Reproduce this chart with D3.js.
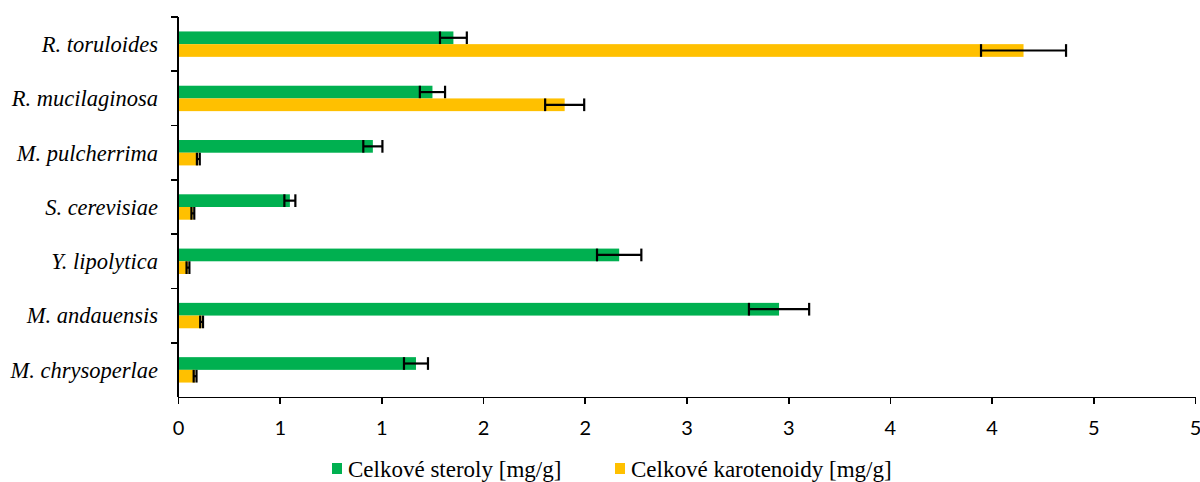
<!DOCTYPE html>
<meta charset="utf-8">
<style>

body {
  margin: 0;
  background: #fff;
}

.axis path,
.axis line {
  fill: none;
  stroke: #000;
  stroke-width: 1.6px;
  shape-rendering: crispEdges;
}

.axis--x text {
  font: 20px Lato, sans-serif;
  fill: #000;
}

.axis--y text {
  font: italic 22.5px "Liberation Serif", "Times New Roman", serif;
  fill: #000;
}

.err line {
  stroke: #000;
  stroke-width: 2.2px;
}

.legend text {
  font: 23px "Liberation Serif", "Times New Roman", serif;
  fill: #000;
}

</style>
<body>
<svg width="1200" height="482"></svg>
</body>

<script src="https://d3js.org/d3.v7.min.js"></script>
<script>

// species, top to bottom
var species = ["R. toruloides", "R. mucilaginosa", "M. pulcherrima", "S. cerevisiae",
               "Y. lipolytica", "M. andauensis", "M. chrysoperlae"];

var sterols      = [1.354, 1.251, 0.958, 0.550, 2.169, 2.955, 1.170];
var sterolsErr   = [0.066, 0.062, 0.047, 0.027, 0.109, 0.148, 0.059];
var carotenoids    = [4.157, 1.901, 0.100, 0.073, 0.049, 0.116, 0.084];
var carotenoidsErr = [0.209, 0.096, 0.007, 0.007, 0.007, 0.007, 0.007];

var tickValues = [0, 0.5, 1, 1.5, 2, 2.5, 3, 3.5, 4, 4.5, 5];
var tickLabels = ["0", "1", "1", "2", "2", "3", "3", "4", "4", "5", "5"];

var seriesNames = ["Celkové steroly [mg/g]", "Celkové karotenoidy [mg/g]"];
var colors = ["#00b050", "#ffc000"];

var svg = d3.select("svg"),
    margin = {top: 17, right: 5, bottom: 85, left: 178},
    width = 1195 - margin.left,
    height = 397 - margin.top;

var x = d3.scaleLinear()
    .domain([0, 5])
    .range([0, width]);

var y = d3.scaleBand()
    .domain(species)
    .range([0, height]);

var barH = y.step() * 0.234;

var g = svg.append("g")
    .attr("transform", "translate(" + margin.left + "," + margin.top + ")");

var data = species.map(function(s, i) {
  return {name: s, values: [
    {v: sterols[i], e: sterolsErr[i], k: 0},
    {v: carotenoids[i], e: carotenoidsErr[i], k: 1}
  ]};
});

var groups = g.selectAll(".sp")
  .data(data)
  .enter().append("g")
    .attr("class", "sp")
    .attr("transform", function(d) { return "translate(0," + (y(d.name) + y.step() / 2) + ")"; });

var bars = groups.selectAll(".b")
  .data(function(d) { return d.values; })
  .enter().append("g")
    .attr("class", "b");

bars.append("rect")
    .attr("x", 0)
    .attr("y", function(d) { return d.k === 0 ? -barH : 0; })
    .attr("width", function(d) { return x(d.v); })
    .attr("height", barH)
    .attr("fill", function(d) { return colors[d.k]; });

var err = bars.append("g")
    .attr("class", "err")
    .attr("transform", function(d) { return "translate(0," + (d.k === 0 ? -barH / 2 : barH / 2) + ")"; });

err.append("line")
    .attr("x1", function(d) { return x(d.v - d.e); })
    .attr("x2", function(d) { return x(d.v + d.e); });

err.append("line")
    .attr("x1", function(d) { return x(d.v - d.e); })
    .attr("x2", function(d) { return x(d.v - d.e); })
    .attr("y1", -barH / 2)
    .attr("y2", barH / 2);

err.append("line")
    .attr("x1", function(d) { return x(d.v + d.e); })
    .attr("x2", function(d) { return x(d.v + d.e); })
    .attr("y1", -barH / 2)
    .attr("y2", barH / 2);

// x axis
g.append("g")
    .attr("class", "axis axis--x")
    .attr("transform", "translate(0," + height + ")")
    .call(d3.axisBottom(x)
      .tickValues(tickValues)
      .tickFormat(function(d, i) { return tickLabels[i]; })
      .tickSize(7)
      .tickSizeOuter(0)
      .tickPadding(17));

// y axis: ticks sit at the band boundaries
var yAxis = g.append("g")
    .attr("class", "axis axis--y");

yAxis.append("line")
    .attr("x1", 0).attr("x2", 0)
    .attr("y1", 0).attr("y2", height);

yAxis.selectAll(".tk")
  .data(d3.range(species.length))
  .enter().append("line")
    .attr("class", "tk")
    .attr("x1", -7).attr("x2", 0)
    .attr("y1", function(i) { return y(species[i]); })
    .attr("y2", function(i) { return y(species[i]); });

yAxis.selectAll("text")
  .data(species)
  .enter().append("text")
    .attr("x", -20)
    .attr("y", function(d) { return y(d) + y.step() / 2; })
    .attr("dy", "0.35em")
    .attr("text-anchor", "end")
    .text(function(d) { return d; });

// legend
var legend = svg.append("g")
    .attr("class", "legend");

var legX = [332, 615];

var item = legend.selectAll("g")
  .data(seriesNames)
  .enter().append("g")
    .attr("transform", function(d, i) { return "translate(" + legX[i] + ",463)"; });

item.append("rect")
    .attr("width", 10)
    .attr("height", 11)
    .attr("fill", function(d, i) { return colors[i]; });

item.append("text")
    .attr("x", 16)
    .attr("y", 14)
    .text(function(d) { return d; });

</script>
